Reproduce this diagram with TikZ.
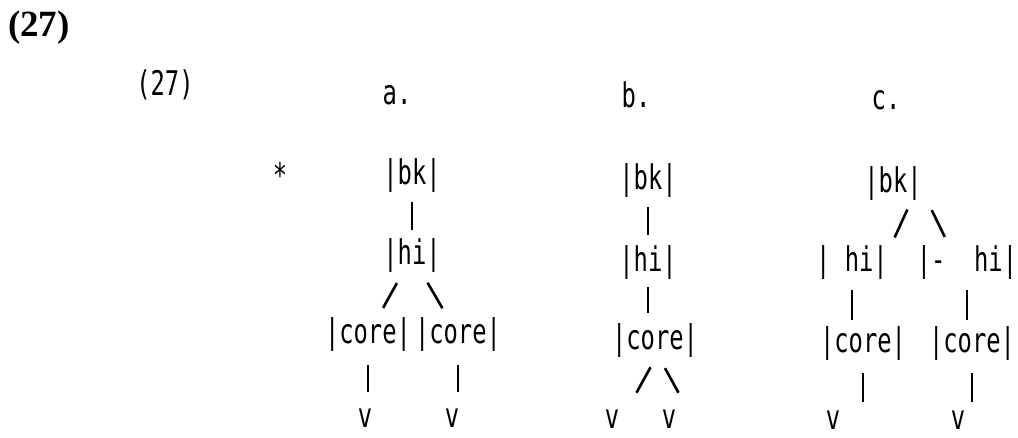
\documentclass[tikz,border=0pt]{standalone}
\usepackage{fontspec}
\newfontfamily\scanfont[FakeStretch=0.7]{DejaVu Sans Mono}
\newfontfamily\headfont{Liberation Serif}
\tikzset{
	tt/.style={font=\scanfont\fontsize{34}{34}\selectfont, inner sep=0pt},
	stem/.style={line width=2.6pt, shorten <=26pt, shorten >=26pt}
}

\begin{document}
\begin{tikzpicture}[x=1pt, y=-1pt]
			%%%%% START %%%%%
			\useasboundingbox (0,0) rectangle (1018,437);
			
			\node[font=\headfont\bfseries\fontsize{37}{37}\selectfont, inner sep=0pt] (num) at (39,28) {(27)};
			\node[tt] (numb) at (165,85) {(27)};
			
			\node[tt] (labA) at (397,95) {a.};
			\node[tt] (labB) at (636,95) {b.};
			\node[tt] (labC) at (886,100) {c.};
			
			\node[tt] (star) at (280,175) {*};
			
			% tree a
			\node[tt] (bkA) at (412,176) {|bk|};
			\node[tt] (hiA) at (412,256) {|hi|};
			\node[tt] (coreA1) at (368,335) {|core|};
			\node[tt] (coreA2) at (458,335) {|core|};
			\node[tt] (vA1) at (365,418) {v};
			\node[tt] (vA2) at (452,418) {v};
			
			\draw[stem] (bkA.center) -- (hiA.center);
			\draw[stem, shorten <=31pt, shorten >=31pt] (hiA.center) -- (coreA1.center);
			\draw[stem, shorten <=31pt, shorten >=31pt] (hiA.center) -- (coreA2.center);
			\draw[stem, shorten <=30pt, shorten >=26pt] (coreA1.center) -- (coreA1.center |- vA1.center);
			\draw[stem, shorten <=30pt, shorten >=26pt] (coreA2.center) -- (coreA2.center |- vA2.center);
			
			% tree b
			\node[tt] (bkB) at (648,181) {|bk|};
			\node[tt] (hiB) at (648,263) {|hi|};
			\node[tt] (coreB) at (655,341) {|core|};
			\node[tt] (vB1) at (612,419) {v};
			\node[tt] (vB2) at (669,419) {v};
			
			\draw[stem, shorten >=28pt] (bkB.center) -- (hiB.center);
			\draw[stem, shorten <=24pt, shorten >=28pt] (hiB.center) -- (hiB.center |- coreB.center);
			\draw[stem, shorten <=30pt, shorten >=30pt] ([xshift=10pt]coreB.center) -- ([xshift=10pt]vB1.center);
			\draw[stem, shorten <=31pt, shorten >=30pt] ([xshift=-5pt]coreB.center) -- ([xshift=24pt]vB2.center);
			
			% tree c
			\node[tt] (bkC) at (893,184) {|bk|};
			\node[tt] (hiC1) at (852,263) {|~hi|};
			\node[tt] (hiC2) at (967,263) {|-~~hi|};
			\node[tt] (coreC1) at (863,344) {|core|};
			\node[tt] (coreC2) at (972,344) {|core|};
			\node[tt] (vC1) at (833,420) {v};
			\node[tt] (vC2) at (958,420) {v};
			
			\draw[stem, shorten <=28pt, shorten >=28pt] ([xshift=26pt]bkC.center) -- ([xshift=31pt]hiC1.center);
			\draw[stem, shorten <=29pt, shorten >=29pt] ([xshift=26pt]bkC.center) -- ([xshift=-9.5pt]hiC2.center);
			\draw[stem, shorten <=27pt, shorten >=24pt] (hiC1.center) -- (hiC1.center |- coreC1.center);
			\draw[stem, shorten <=27pt, shorten >=24pt] (hiC2.center) -- (hiC2.center |- coreC2.center);
			\draw[stem, shorten <=29pt, shorten >=18pt] (coreC1.center) -- (coreC1.center |- vC1.center);
			\draw[stem, shorten <=29pt, shorten >=18pt] (coreC2.center) -- (coreC2.center |- vC2.center);
			
			%%%%% END %%%%%
\end{tikzpicture}
\end{document}
